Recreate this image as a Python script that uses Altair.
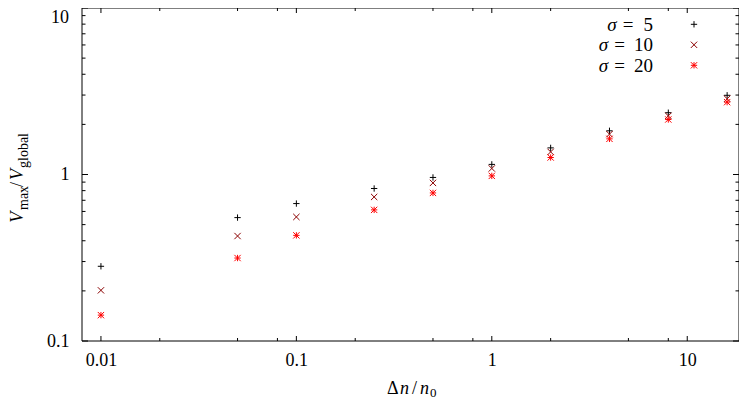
import altair as alt
import pandas as pd

# ---------------- data ----------------
x_vals = [0.01, 0.05, 0.1, 0.25, 0.5, 1, 2, 4, 8, 16]
sigma5 = [0.281, 0.551, 0.669, 0.824, 0.96, 1.15, 1.445, 1.83, 2.35, 2.99]
sigma10 = [0.2015, 0.427, 0.556, 0.733, 0.89, 1.087, 1.367, 1.747, 2.25, 2.85]
sigma20 = [0.143, 0.315, 0.431, 0.613, 0.775, 0.981, 1.265, 1.637, 2.14, 2.72]
series_names = ["σ = 5", "σ = 10", "σ = 20"]
sigma_numbers = ["5", "10", "20"]

x_major = [0.01, 0.1, 1, 10]
x_minor = [0.02, 0.05, 0.08, 0.2, 0.5, 0.8, 2, 5, 8]
y_major = [0.1, 1, 10]
y_minor = [0.2, 0.3, 0.4, 0.5, 0.6, 0.7, 0.8, 0.9, 2, 3, 4, 5, 6, 7, 8, 9]
y_labels_axis = [0.1, 1]
y_label_top = [10]

# ---------------- styling ----------------
W, H = 657, 333
FONT = "Liberation Serif"
colors = ["#000000", "#8b0000", "#ff0000"]
shapes = [
    "M-1,0L1,0M0,-1L0,1",
    "M-1,-1L1,1M-1,1L1,-1",
    "M-1,0L1,0M0,-1L0,1M-1,-1L1,1M-1,1L1,-1",
]
xscale = alt.Scale(type="log", domain=[0.008, 18.4])
yscale = alt.Scale(type="log", domain=[0.1, 10])
xaxis = alt.Axis(values=x_major, format="~g", ticks=False, domain=False, grid=False,
                 labelFont=FONT, labelFontSize=18, labelPadding=10, labelColor="black",
                 labelFlush=False, title=None)
yaxis = alt.Axis(values=y_labels_axis, format="~g", ticks=False, domain=False, grid=False,
                 labelFont=FONT, labelFontSize=18, labelPadding=13, labelColor="black",
                 labelFlush=False, title=None)

rows = []
for name, vals in zip(series_names, [sigma5, sigma10, sigma20]):
    for xv, yv in zip(x_vals, vals):
        rows.append({"x": xv, "y": yv, "series": name})
df = pd.DataFrame(rows)

points = alt.Chart(df).mark_point(filled=False, opacity=1, strokeWidth=1, size=40).encode(
    x=alt.X("x:Q", scale=xscale, axis=xaxis),
    y=alt.Y("y:Q", scale=yscale, axis=yaxis),
    color=alt.Color("series:N", scale=alt.Scale(domain=series_names, range=colors), legend=None),
    shape=alt.Shape("series:N", scale=alt.Scale(domain=series_names, range=shapes), legend=None),
)

one = alt.Data(values=[{}])

# frame
frame = alt.Chart(one).mark_rect(fill=None, stroke="black", strokeWidth=1).encode(
    x=alt.value(0), x2=alt.value(W), y=alt.value(0), y2=alt.value(H))

layers = [frame, points]

# inward ticks on all four sides
def xticks(vals, length):
    d = pd.DataFrame({"x": vals})
    bottom = alt.Chart(d).mark_rule(color="black", strokeWidth=1).encode(
        x=alt.X("x:Q", scale=xscale, axis=xaxis), y=alt.value(H), y2=alt.value(H - length))
    top = alt.Chart(d).mark_rule(color="black", strokeWidth=1).encode(
        x=alt.X("x:Q", scale=xscale, axis=xaxis), y=alt.value(0), y2=alt.value(length))
    return [bottom, top]

def yticks(vals, length):
    d = pd.DataFrame({"y": vals})
    left = alt.Chart(d).mark_rule(color="black", strokeWidth=1).encode(
        y=alt.Y("y:Q", scale=yscale, axis=yaxis), x=alt.value(0), x2=alt.value(length))
    right = alt.Chart(d).mark_rule(color="black", strokeWidth=1).encode(
        y=alt.Y("y:Q", scale=yscale, axis=yaxis), x=alt.value(W), x2=alt.value(W - length))
    return [left, right]

layers += xticks(x_major, 5) + xticks(x_minor, 3) + yticks(y_major, 6) + yticks(y_minor, 3.5)

# top y label "10" (kept inside the page)
top_label = alt.Chart(pd.DataFrame({"y": y_label_top, "t": ["10"]})).mark_text(
    font=FONT, fontSize=18, align="right", baseline="middle", dx=-13, dy=10, color="black"
).encode(x=alt.value(0), y=alt.Y("y:Q", scale=yscale, axis=yaxis), text="t:N")
layers.append(top_label)


def txt(s, x, y, size=18, style="normal", align="left", baseline="alphabetic", angle=0):
    return alt.Chart(one).mark_text(
        text=s, font=FONT, fontSize=size, fontStyle=style, align=align,
        baseline=baseline, angle=angle, color="black"
    ).encode(x=alt.value(x), y=alt.value(y))

# y axis title: V_max / V_global
layers += [
    txt("V", -59, 214.7, 18, "italic", angle=270),
    txt("max", -54, 202, 14, angle=270),
    txt("/", -59, 179, 18, angle=270),
    txt("V", -59, 172, 18, "italic", angle=270),
    txt("global", -54, 160, 14, angle=270),
]

# x axis title: Δn/n_0
TB = 386
layers += [
    txt("Δ", 305, TB, 18),
    txt("n", 318, TB, 18, "italic"),
    txt("/", 330, TB, 18),
    txt("n", 338, TB, 18, "italic"),
    txt("0", 348, TB + 3, 13),
]

# legend
row_y = [16.3, 36.8, 57.3]
for i, num in enumerate(sigma_numbers):
    yb = row_y[i] + 6.3
    eq_c = 554.5 - 8.5 * len(num)
    layers += [
        txt(num, 571, yb, 19, align="right"),
        txt("=", eq_c, yb, 19, align="center"),
        txt("σ", eq_c - 16, yb, 19, "italic", align="center"),
        alt.Chart(one).mark_point(filled=False, opacity=1, strokeWidth=1, size=40).encode(
            x=alt.value(612), y=alt.value(row_y[i]),
            shape=alt.value(shapes[i]), color=alt.value(colors[i])),
    ]

chart = alt.layer(*layers).properties(
    width=W, height=H,
    autosize=alt.AutoSizeParams(type="none"),
    padding={"left": 74, "top": 0, "right": 0, "bottom": 59},
).configure(background="white").configure_view(stroke=None)

chart.save("out.html", embed_options={"renderer": "svg", "actions": False})
